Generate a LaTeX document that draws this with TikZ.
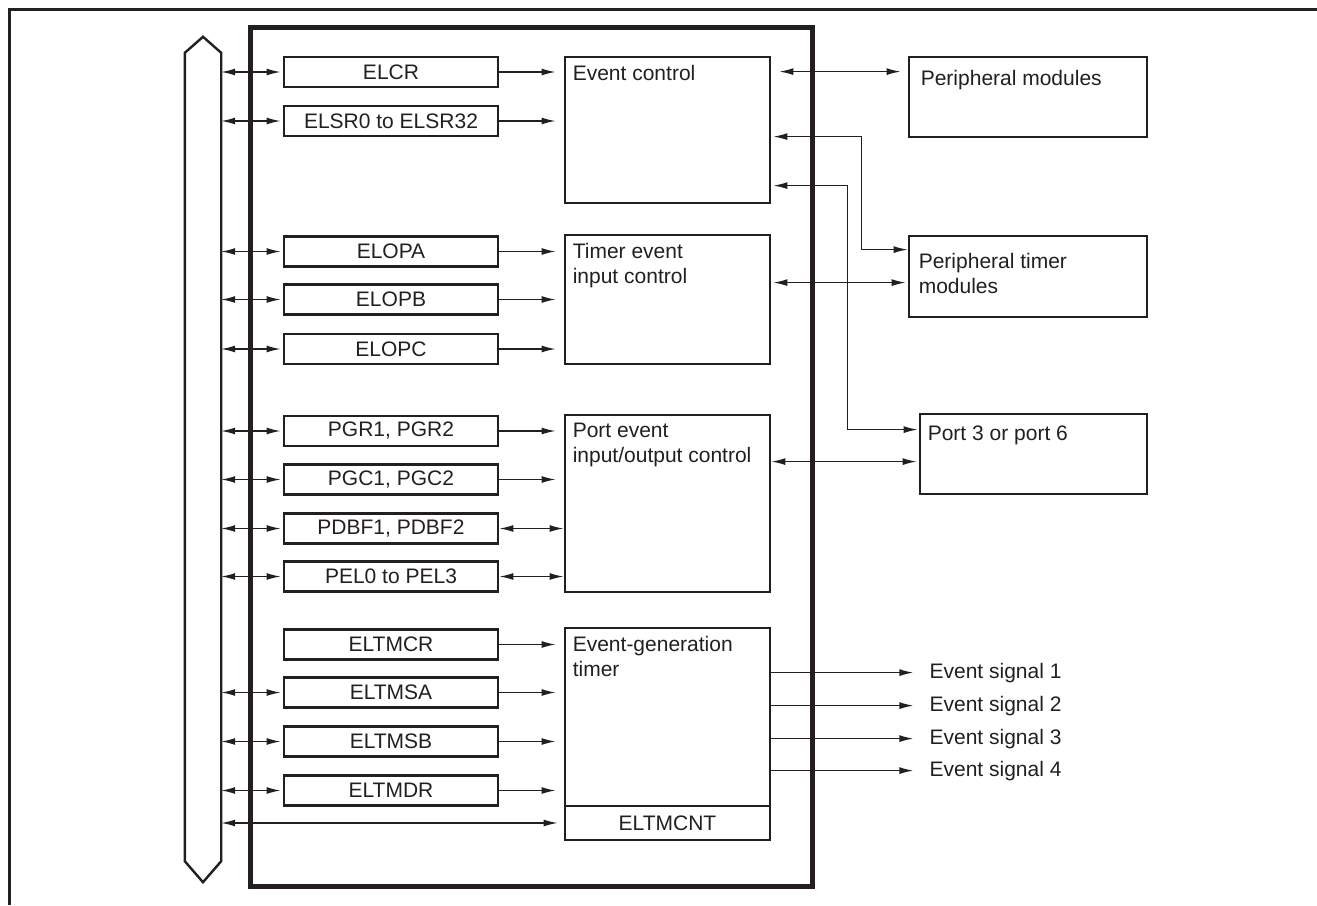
\documentclass[tikz,border=0pt]{standalone}
\usepackage{fontspec}
\setmainfont{Liberation Sans}
\usetikzlibrary{arrows.meta,calc}
\definecolor{ink}{RGB}{35,31,32}
\begin{document}
\begin{tikzpicture}[x=1pt,y=-1pt,
  every node/.style={font=\fontsize{21}{25}\selectfont,text=ink},
  reg/.style={draw=ink,line width=2.8pt,minimum width=214pt,minimum height=30pt,inner sep=0pt},
  blk/.style={draw=ink,line width=2.8pt,inner sep=0pt},
  lbl/.style={anchor=north west,inner sep=0pt,align=left},
  conn/.style={draw=ink,line width=1.4pt},
  >={Latex[length=14pt,width=7pt]}]
\useasboundingbox (0,0) rectangle (1317,905);
% outer frame
\draw[ink,line width=3pt] (9,905) -- (9,9) -- (1317,9);
% main box
\node[draw=ink,line width=5pt,minimum width=562pt,minimum height=859pt,inner sep=0pt] (main) at (531,456.5) {};
% bus
\node[minimum width=36pt,minimum height=845pt,inner sep=0pt] (bus) at (203,459.5) {};
\draw[ink,line width=2.4pt,line join=miter]
  ($(bus.north west)+(0,16)$) -- (bus.north) -- ($(bus.north east)+(0,16)$)
  -- ($(bus.south east)+(0,-21)$) -- (bus.south) -- ($(bus.south west)+(0,-21)$) -- cycle;
% registers
\node[reg] (elcr)   at (391,72)    {ELCR};
\node[reg] (elsr)   at (391,121)   {ELSR0 to ELSR32};
\node[reg] (elopa)  at (391,251.5) {ELOPA};
\node[reg] (elopb)  at (391,299.5) {ELOPB};
\node[reg] (elopc)  at (391,349)   {ELOPC};
\node[reg] (pgr)    at (391,431)   {PGR1, PGR2};
\node[reg] (pgc)    at (391,479.5) {PGC1, PGC2};
\node[reg] (pdbf)   at (391,528.5) {PDBF1, PDBF2};
\node[reg] (pel)    at (391,576.5) {PEL0 to PEL3};
\node[reg] (eltmcr) at (391,644.5) {ELTMCR};
\node[reg] (eltmsa) at (391,692.5) {ELTMSA};
\node[reg] (eltmsb) at (391,741.5) {ELTMSB};
\node[reg] (eltmdr) at (391,790.5) {ELTMDR};
% control blocks
\node[blk,minimum width=205pt,minimum height=146pt] (ec) at (667.5,130)   {};
\node[blk,minimum width=205pt,minimum height=129pt] (te) at (667.5,299.5) {};
\node[blk,minimum width=205pt,minimum height=177pt] (pe) at (667.5,503.5) {};
\node[blk,minimum width=205pt,minimum height=178pt] (eg) at (667.5,717)   {};
\node[blk,minimum width=205pt,minimum height=34pt] (cnt) at (667.5,823)   {ELTMCNT};
\node[lbl] (ect) at ($(ec.north west)+(9,9)$) {Event control};
\node[lbl] (tet) at ($(te.north west)+(9,9)$) {Timer event\\input control};
\node[lbl] (pet) at ($(pe.north west)+(9,9)$) {Port event\\input/output control};
\node[lbl] (egt) at ($(eg.north west)+(9,9)$) {Event-generation\\timer};
% external blocks
\node[blk,minimum width=238pt,minimum height=80pt] (pm) at (1028,97)    {};
\node[blk,minimum width=238pt,minimum height=81pt] (pt) at (1028,276.5) {};
\node[blk,minimum width=227pt,minimum height=80pt] (p3) at (1033.5,454) {};
\node[lbl] (pmt) at ($(pm.north west)+(13,14)$) {Peripheral modules};
\node[lbl] (ptt) at ($(pt.north west)+(11,18)$) {Peripheral timer\\modules};
\node[lbl] (p3t) at ($(p3.north west)+(9,13)$) {Port 3 or port 6};
% bus to registers
\foreach \r in {elcr,elsr,elopa,elopb,elopc,pgr,pgc,pdbf,pel,eltmsa,eltmsb,eltmdr}
  \draw[conn,<->,shorten >=2pt] (bus.east |- \r.west) -- (\r.west);
\draw[conn,<->,shorten >=6pt] (bus.east |- cnt.west) -- (cnt.west);
% registers to blocks
\foreach \r/\b in {elcr/ec,elsr/ec,elopa/te,elopb/te,elopc/te,pgr/pe,pgc/pe,eltmcr/eg,eltmsa/eg,eltmsb/eg,eltmdr/eg}
  \draw[conn,->,shorten >=8pt] (\r.east) -- (\r.east -| \b.west);
\draw[conn,<->] (pdbf.east) -- (pdbf.east -| pe.west);
\draw[conn,<->] (pel.east) -- (pel.east -| pe.west);
% right side connections
\draw[conn,<->] ($(ec.north east)+(8,16)$) -- ($(pm.north west)+(-7,16)$);
\draw[conn,<->] ($(ec.north east)+(2,81)$) -| ($(pt.north west)+(-46,15)$) -- ($(pt.north west)+(0,15)$);
\draw[conn,<->] ($(ec.north east)+(2,130)$) -| ($(p3.north west)+(-71,17)$) -- ($(p3.north west)+(-1,17)$);
\draw[conn,<->] ($(te.north east)+(2,49)$) -- ($(pt.north west)+(-2,48)$);
\draw[conn,<->] ($(pe.north east)+(0,48)$) -- ($(p3.north west)+(-2,49)$);
% event signals
\node[anchor=west,inner sep=0pt] (s1) at ($(eg.north east)+(158,46)$)  {Event signal 1};
\node[anchor=west,inner sep=0pt] (s2) at ($(eg.north east)+(158,79)$)  {Event signal 2};
\node[anchor=west,inner sep=0pt] (s3) at ($(eg.north east)+(158,112)$) {Event signal 3};
\node[anchor=west,inner sep=0pt] (s4) at ($(eg.north east)+(158,144)$) {Event signal 4};
\foreach \s/\d in {s1/46,s2/79,s3/112,s4/144}
  \draw[conn,->,shorten >=16pt] ($(eg.north east)+(0,\d)$) -- (\s.west);
\end{tikzpicture}
\end{document}
